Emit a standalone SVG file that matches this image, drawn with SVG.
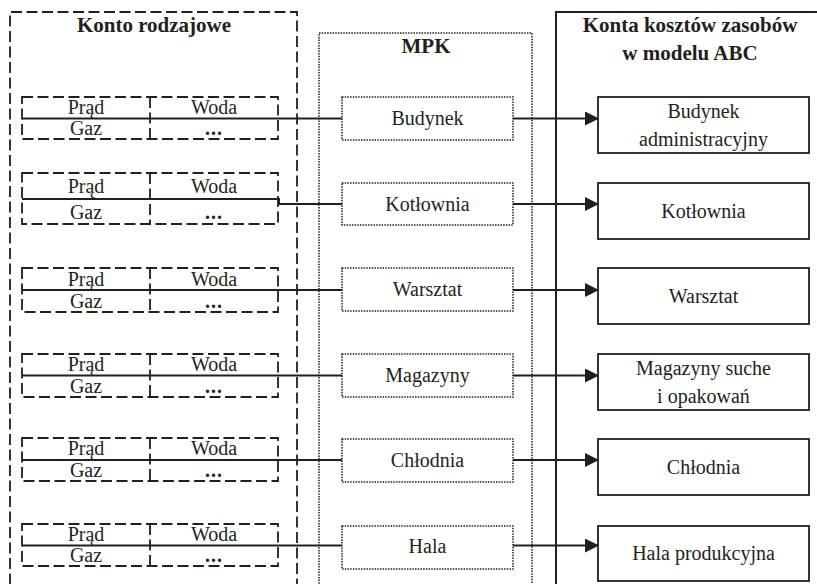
<svg xmlns="http://www.w3.org/2000/svg" width="817" height="584" viewBox="0 0 817 584">
  <defs>
    <marker id="arrow" viewBox="0 0 14 14" refX="13" refY="7" markerWidth="14" markerHeight="14" markerUnits="userSpaceOnUse" orient="auto">
      <path d="M0,0 L14,7 L0,14 Z" fill="#231f20"/>
    </marker>
    <style>
      text { font-family: "Liberation Serif", "Times New Roman", serif; fill: #231f20; text-anchor: middle; }
      .head { font-size: 21px; font-weight: bold; }
      .lbl { font-size: 20px; }
      .more { font-size: 20px; font-weight: bold; letter-spacing: 1px; }
      .dash { fill: none; stroke: #231f20; stroke-width: 1.8; stroke-dasharray: 11 4.5; }
      .dot { fill: #ffffff; stroke: #231f20; stroke-width: 1.5; stroke-dasharray: 1.5 1.2; }
      .dotframe { fill: none; stroke: #231f20; stroke-width: 1.5; stroke-dasharray: 1.5 1.2; }
      .solid { fill: #ffffff; stroke: #231f20; stroke-width: 1.8; }
      .frame { fill: none; stroke: #231f20; stroke-width: 2; }
      .link { fill: none; stroke: #231f20; stroke-width: 2; }
      .arr { fill: none; stroke: #231f20; stroke-width: 2; marker-end: url(#arrow); }
    </style>
  </defs>
  <rect width="817" height="584" fill="#ffffff"/>

  <!-- column frames -->
  <g id="col-konto">
    <path class="dash" d="M10,600 V12 H297 V600"/>
    <text class="head" x="154" y="32">Konto rodzajowe</text>
  </g>
  <g id="col-mpk">
    <path class="dotframe" d="M319,600 V33 H532 V600"/>
    <text class="head" x="426" y="53">MPK</text>
  </g>
  <g id="col-abc">
    <path class="frame" d="M556,600 V12 H830"/>
    <text class="head" x="690" y="32">Konta kosztów zasobów</text>
    <text class="head" x="690" y="60">w modelu ABC</text>
  </g>

  <!-- connectors -->
  <g id="connectors">
    <path class="link" d="M22,118.5 H342"/>
    <path class="link" d="M22,199 H279 V204 H342"/>
    <path class="link" d="M22,290 H342"/>
    <path class="link" d="M22,375.5 H342"/>
    <path class="link" d="M22,460 H342"/>
    <path class="link" d="M22,545.5 H342"/>
    <path class="arr" d="M513,118.5 H598"/>
    <path class="arr" d="M513,204 H598"/>
    <path class="arr" d="M513,290 H598"/>
    <path class="arr" d="M513,375.5 H598"/>
    <path class="arr" d="M513,460 H598"/>
    <path class="arr" d="M513,545.5 H598"/>
  </g>

  <!-- cost-type accounts, one block per row -->
  <g id="konto-1">
    <rect class="dash" x="22" y="97" width="256" height="42"/>
    <path class="dash" d="M150,97 V139"/>
    <text class="lbl" x="86" y="114">Prąd</text><text class="lbl" x="214" y="114">Woda</text>
    <text class="lbl" x="86" y="135">Gaz</text><text class="more" x="214" y="135">...</text>
  </g>
  <g id="konto-2">
    <rect class="dash" x="22" y="173" width="256" height="51"/>
    <path class="dash" d="M150,173 V224"/>
    <text class="lbl" x="86" y="193">Prąd</text><text class="lbl" x="214" y="193">Woda</text>
    <text class="lbl" x="86" y="219">Gaz</text><text class="more" x="214" y="219">...</text>
  </g>
  <g id="konto-3">
    <rect class="dash" x="22" y="268" width="256" height="44"/>
    <path class="dash" d="M150,268 V312"/>
    <text class="lbl" x="86" y="286">Prąd</text><text class="lbl" x="214" y="286">Woda</text>
    <text class="lbl" x="86" y="308">Gaz</text><text class="more" x="214" y="308">...</text>
  </g>
  <g id="konto-4">
    <rect class="dash" x="22" y="354" width="256" height="43"/>
    <path class="dash" d="M150,354 V397"/>
    <text class="lbl" x="86" y="371">Prąd</text><text class="lbl" x="214" y="371">Woda</text>
    <text class="lbl" x="86" y="393">Gaz</text><text class="more" x="214" y="393">...</text>
  </g>
  <g id="konto-5">
    <rect class="dash" x="22" y="438" width="256" height="43"/>
    <path class="dash" d="M150,438 V481"/>
    <text class="lbl" x="86" y="455">Prąd</text><text class="lbl" x="214" y="455">Woda</text>
    <text class="lbl" x="86" y="477">Gaz</text><text class="more" x="214" y="477">...</text>
  </g>
  <g id="konto-6">
    <rect class="dash" x="22" y="524" width="256" height="42"/>
    <path class="dash" d="M150,524 V566"/>
    <text class="lbl" x="86" y="541">Prąd</text><text class="lbl" x="214" y="541">Woda</text>
    <text class="lbl" x="86" y="562">Gaz</text><text class="more" x="214" y="562">...</text>
  </g>

  <!-- cost centres -->
  <g id="mpk-budynek"><rect class="dot" x="342" y="97" width="171" height="43"/><text class="lbl" x="427.5" y="125">Budynek</text></g>
  <g id="mpk-kotlownia"><rect class="dot" x="342" y="183" width="171" height="42"/><text class="lbl" x="427.5" y="211">Kotłownia</text></g>
  <g id="mpk-warsztat"><rect class="dot" x="342" y="268" width="171" height="43"/><text class="lbl" x="427.5" y="296">Warsztat</text></g>
  <g id="mpk-magazyny"><rect class="dot" x="342" y="354" width="171" height="43"/><text class="lbl" x="427.5" y="382">Magazyny</text></g>
  <g id="mpk-chlodnia"><rect class="dot" x="342" y="439" width="171" height="43"/><text class="lbl" x="427.5" y="467">Chłodnia</text></g>
  <g id="mpk-hala"><rect class="dot" x="342" y="526" width="171" height="43"/><text class="lbl" x="427.5" y="553">Hala</text></g>

  <!-- ABC resource cost accounts -->
  <g id="abc-budynek"><rect class="solid" x="598" y="97" width="211" height="56"/><text class="lbl" x="703.5" y="118">Budynek</text><text class="lbl" x="703.5" y="146">administracyjny</text></g>
  <g id="abc-kotlownia"><rect class="solid" x="598" y="183" width="211" height="56"/><text class="lbl" x="703.5" y="218">Kotłownia</text></g>
  <g id="abc-warsztat"><rect class="solid" x="598" y="268" width="211" height="56"/><text class="lbl" x="703.5" y="303">Warsztat</text></g>
  <g id="abc-magazyny"><rect class="solid" x="598" y="354" width="211" height="56"/><text class="lbl" x="703.5" y="375">Magazyny suche</text><text class="lbl" x="703.5" y="403">i opakowań</text></g>
  <g id="abc-chlodnia"><rect class="solid" x="598" y="439" width="211" height="56"/><text class="lbl" x="703.5" y="474">Chłodnia</text></g>
  <g id="abc-hala"><rect class="solid" x="598" y="526" width="211" height="55"/><text class="lbl" x="703.5" y="560">Hala produkcyjna</text></g>
</svg>
